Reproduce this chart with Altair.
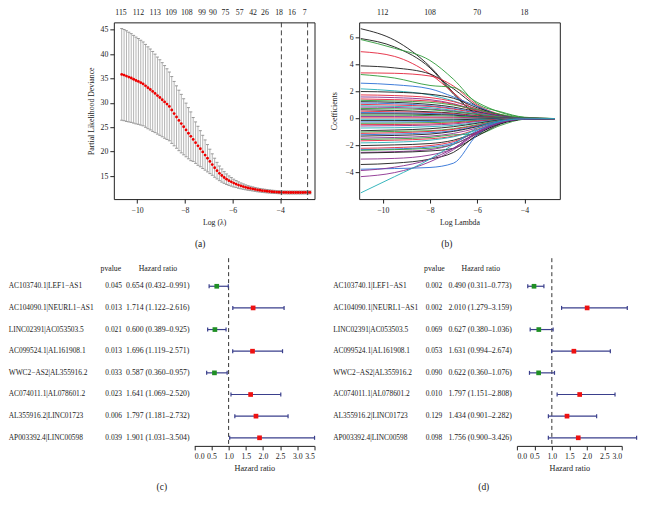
import altair as alt
import pandas as pd

FONT = "Liberation Serif"
FS = 7.8
FS_GENE = 7.4
FS_P = 7.4
INK = "#222222"

# ---------------- panel (a): cross-validation curve ----------------
A_LOGLAMBDA = [-10.65, -10.55, -10.45, -10.35, -10.25, -10.15, -10.05, -9.95, -9.85, -9.75,
               -9.65, -9.55, -9.45, -9.35, -9.25, -9.15, -9.05, -8.95, -8.85, -8.75,
               -8.65, -8.55, -8.45, -8.35, -8.25, -8.15, -8.05, -7.95, -7.85, -7.75,
               -7.65, -7.55, -7.45, -7.35, -7.25, -7.15, -7.05, -6.95, -6.85, -6.75,
               -6.65, -6.55, -6.45, -6.35, -6.25, -6.15, -6.05, -5.95, -5.85, -5.75,
               -5.65, -5.55, -5.45, -5.35, -5.25, -5.15, -5.05, -4.95, -4.85, -4.75,
               -4.65, -4.55, -4.45, -4.35, -4.25, -4.15, -4.05, -3.95, -3.85, -3.75,
               -3.65, -3.55, -3.45, -3.35, -3.25, -3.15, -3.05, -2.95, -2.85, -2.75]
A_CVM = [35.85, 35.7, 35.5, 35.3, 35.1, 34.85, 34.6, 34.4, 34.15, 33.9,
         33.5, 33.1, 32.75, 32.35, 31.95, 31.5, 31.1, 30.65, 30.2, 29.75,
         29.28, 28.55, 27.8, 27.1, 26.4, 25.75, 25.1, 24.45, 23.78, 23.15,
         22.5, 21.85, 21.2, 20.6, 19.95, 19.3, 18.65, 18.0, 17.35, 16.7,
         16.1, 15.55, 15.1, 14.7, 14.35, 14.05, 13.8, 13.55, 13.35, 13.15,
         12.98, 12.83, 12.68, 12.55, 12.45, 12.35, 12.25, 12.15, 12.08, 12.0,
         11.94, 11.88, 11.83, 11.78, 11.74, 11.7, 11.67, 11.65, 11.64, 11.63,
         11.62, 11.62, 11.62, 11.62, 11.62, 11.62, 11.62, 11.63, 11.63, 11.64]
A_CVSD = [9.4, 9.35, 9.3, 9.2, 9.1, 9.0, 8.9, 8.8, 8.7, 8.6,
          8.5, 8.4, 8.3, 8.2, 8.05, 7.9, 7.75, 7.6, 7.45, 7.25,
          7.05, 6.85, 6.6, 6.4, 6.2, 6.0, 5.75, 5.5, 5.25, 5.0,
          4.5, 4.25, 4.0, 3.7, 3.4, 3.1, 2.8, 2.5, 2.2, 1.95,
          1.7, 1.5, 1.35, 1.2, 1.08, 0.97, 0.88, 0.8, 0.72, 0.66,
          0.6, 0.55, 0.5, 0.47, 0.44, 0.42, 0.4, 0.38, 0.37, 0.36,
          0.35, 0.34, 0.33, 0.32, 0.31, 0.3, 0.3, 0.3, 0.3, 0.3,
          0.3, 0.3, 0.3, 0.3, 0.3, 0.3, 0.3, 0.3, 0.3, 0.3]
A_TOP_POS = [-10.68, -9.95, -9.24, -8.58, -7.92, -7.28, -6.82, -6.30, -5.70, -5.14, -4.64, -4.05, -3.51, -2.97]
A_TOP_LAB = ["115", "112", "113", "109", "108", "99", "90", "75", "57", "42", "26", "18", "16", "7"]
A_VLINES = [-3.95, -2.85]

# ---------------- panel (b): coefficient paths ----------------
B_LAMBDA = [-10.93, -9.5, -8.0, -7.0, -6.0, -5.0, -4.0, -2.71]
B_PATHS = [
    ("black", [6.65, 5.8, 3.85, 1.9, 0.3, 0.0, 0.0, 0.0]),
    ("black", [5.92, 5.3, 3.75, 1.8, 0.35, 0.0, 0.0, 0.0]),
    ("green", [5.85, 5.2, 4.3, 2.9, 1.1, 0.5, 0.1, 0.0]),
    ("red", [4.95, 4.6, 3.3, 1.9, 0.5, 0.05, 0.0, 0.0]),
    ("black", [3.9, 3.75, 3.3, 2.2, 0.9, 0.25, 0.02, 0.0]),
    ("red", [3.38, 3.35, 3.15, 2.4, 1.0, 0.3, 0.03, 0.0]),
    ("green", [3.26, 3.0, 2.45, 2.3, 1.2, 0.45, 0.08, 0.0]),
    ("blue", [2.62, 2.5, 2.2, 1.6, 0.9, 0.25, 0.02, 0.0]),
    ("cyan", [2.2, 2.05, 1.75, 1.3, 0.7, 0.2, 0.02, 0.0]),
    ("black", [2.0, 1.95, 1.8, 1.5, 0.8, 0.25, 0.03, 0.0]),
    ("red", [1.75, 1.7, 1.55, 1.25, 0.7, 0.2, 0.02, 0.0]),
    ("purple", [1.6, 1.55, 1.4, 1.1, 0.6, 0.2, 0.02, 0.0]),
    ("red", [1.45, 1.4, 1.3, 1.05, 0.55, 0.15, 0.01, 0.0]),
    ("green", [1.35, 1.3, 1.2, 1.0, 0.65, 0.3, 0.05, 0.0]),
    ("black", [1.25, 1.2, 1.05, 0.85, 0.5, 0.15, 0.01, 0.0]),
    ("blue", [1.15, 1.1, 0.95, 0.75, 0.45, 0.15, 0.01, 0.0]),
    ("red", [1.05, 1.0, 0.9, 0.7, 0.4, 0.12, 0.0, 0.0]),
    ("cyan", [0.95, 0.9, 0.8, 0.6, 0.35, 0.1, 0.0, 0.0]),
    ("purple", [0.85, 0.82, 0.7, 0.55, 0.3, 0.08, 0.0, 0.0]),
    ("green", [0.75, 0.72, 0.65, 0.5, 0.3, 0.1, 0.0, 0.0]),
    ("black", [0.65, 0.6, 0.5, 0.4, 0.2, 0.05, 0.0, 0.0]),
    ("red", [0.55, 0.5, 0.45, 0.35, 0.2, 0.05, 0.0, 0.0]),
    ("blue", [0.45, 0.42, 0.38, 0.3, 0.15, 0.04, 0.0, 0.0]),
    ("black", [0.35, 0.35, 0.3, 0.25, 0.12, 0.03, 0.0, 0.0]),
    ("green", [0.25, 0.25, 0.22, 0.18, 0.1, 0.03, 0.0, 0.0]),
    ("purple", [0.15, 0.15, 0.12, 0.1, 0.05, 0.02, 0.0, 0.0]),
    ("red", [0.05, 0.05, 0.05, 0.04, 0.02, 0.0, 0.0, 0.0]),
    ("cyan", [-0.05, -0.05, -0.05, -0.04, -0.02, 0.0, 0.0, 0.0]),
    ("black", [-0.15, -0.15, -0.13, -0.1, -0.05, -0.01, 0.0, 0.0]),
    ("blue", [-0.25, -0.25, -0.22, -0.18, -0.1, -0.03, 0.0, 0.0]),
    ("green", [-0.35, -0.34, -0.3, -0.25, -0.13, -0.04, 0.0, 0.0]),
    ("red", [-0.45, -0.44, -0.4, -0.32, -0.18, -0.05, 0.0, 0.0]),
    ("purple", [-0.55, -0.53, -0.48, -0.4, -0.22, -0.06, 0.0, 0.0]),
    ("cyan", [-0.7, -0.68, -0.6, -0.5, -0.3, -0.08, 0.0, 0.0]),
    ("black", [-0.9, -0.85, -0.75, -0.6, -0.35, -0.1, -0.01, 0.0]),
    ("green", [-1.0, -0.95, -0.9, -0.75, -0.45, -0.12, -0.01, 0.0]),
    ("red", [-1.1, -1.05, -0.95, -0.8, -0.5, -0.15, -0.01, 0.0]),
    ("blue", [-1.2, -1.15, -1.05, -0.9, -0.55, -0.15, -0.01, 0.0]),
    ("black", [-1.3, -1.25, -1.15, -0.95, -0.6, -0.2, -0.02, 0.0]),
    ("purple", [-1.45, -1.4, -1.3, -1.1, -0.7, -0.2, -0.02, 0.0]),
    ("green", [-1.55, -1.5, -1.4, -1.2, -1.15, -0.5, -0.05, 0.0]),
    ("red", [-1.65, -1.6, -1.5, -1.3, -0.8, -0.25, -0.02, 0.0]),
    ("cyan", [-1.8, -1.75, -1.6, -1.35, -0.85, -0.25, -0.02, 0.0]),
    ("black", [-2.0, -1.95, -1.85, -1.6, -1.0, -0.3, -0.03, 0.0]),
    ("red", [-2.2, -2.15, -2.0, -1.7, -1.0, -0.3, -0.03, 0.0]),
    ("blue", [-2.3, -2.25, -2.1, -1.8, -0.9, -0.2, -0.02, 0.0]),
    ("green", [-2.35, -2.3, -2.2, -1.9, -1.1, -0.35, -0.04, 0.0]),
    ("purple", [-2.5, -2.45, -2.3, -1.9, -1.1, -0.3, -0.03, 0.0]),
    ("black", [-2.55, -2.5, -2.4, -2.2, -1.3, -0.4, -0.05, 0.0]),
    ("purple", [-3.0, -2.95, -2.7, -2.2, -1.0, -0.3, -0.03, 0.0]),
    ("black", [-3.4, -3.3, -3.0, -2.5, -1.2, -0.35, -0.04, 0.0]),
    ("blue", [-3.75, -3.7, -3.62, -3.3, -1.2, -0.3, -0.03, 0.0]),
    ("purple", [-3.85, -3.6, -3.0, -2.2, -1.0, -0.3, -0.03, 0.0]),
    ("purple", [-4.3, -4.0, -3.2, -2.3, -1.1, -0.3, -0.03, 0.0]),
    ("cyan", [-5.5, -4.3, -3.0, -1.9, -0.7, -0.2, -0.02, 0.0]),
]
B_COLORS = {"black": "#1a1a1a", "red": "#e3243b", "green": "#2f9b3a",
            "blue": "#2b6fd6", "cyan": "#23aeb5", "purple": "#8b2f8f"}
B_TOP_POS = [-10, -8, -6, -4]
B_TOP_LAB = ["112", "108", "70", "18"]

# ---------------- panels (c), (d): forest plots ----------------
GENES = ["AC103740.1|LEF1\u2212AS1", "AC104090.1|NEURL1\u2212AS1", "LINC02391|AC053503.5",
         "AC099524.1|AL161908.1", "WWC2\u2212AS2|AL355916.2", "AC074011.1|AL078601.2",
         "AL355916.2|LINC01723", "AP003392.4|LINC00598"]
C_P = [0.045, 0.013, 0.021, 0.013, 0.033, 0.023, 0.006, 0.039]
C_HR = [0.654, 1.714, 0.600, 1.696, 0.587, 1.641, 1.797, 1.901]
C_LO = [0.432, 1.122, 0.389, 1.119, 0.360, 1.069, 1.181, 1.031]
C_HI = [0.991, 2.616, 0.925, 2.571, 0.957, 2.520, 2.732, 3.504]
D_P = [0.002, 0.002, 0.069, 0.053, 0.090, 0.010, 0.129, 0.098]
D_HR = [0.490, 2.010, 0.627, 1.631, 0.622, 1.797, 1.434, 1.756]
D_LO = [0.311, 1.279, 0.380, 0.994, 0.360, 1.151, 0.901, 0.900]
D_HI = [0.773, 3.159, 1.036, 2.674, 1.076, 2.808, 2.282, 3.426]
HR_REF = 1.0
C_TICKS = [0.0, 0.5, 1.0, 1.5, 2.0, 2.5, 3.0, 3.5]
D_TICKS = [0.0, 0.5, 1.0, 1.5, 2.0, 2.5, 3.0]

W = 201
H_TOP = 177
H_BOT = 188
NAVY = "#3a3f8c"
GREEN = "#1f8f24"
RED = "#ee1111"

ax_ab = dict(grid=False, domain=False, tickColor=INK, tickSize=4, labelFontSize=FS,
             titleFontSize=FS, labelColor=INK, titleColor=INK, labelFont=FONT, titleFont=FONT,
             titleFontWeight="normal")

# ---- (a)
a_df = pd.DataFrame({"x": A_LOGLAMBDA, "m": A_CVM, "sd": A_CVSD})
a_df["up"] = a_df["m"] + a_df["sd"]
a_df["lo"] = a_df["m"] - a_df["sd"]
xs_a = alt.Scale(domain=[-10.98, -2.56], nice=False, zero=False)
ys_a = alt.Scale(domain=[10.27, 46.52], nice=False, zero=False)
xax_a = alt.Axis(values=[-10, -8, -6, -4], title="Log (\u03bb)", labelPadding=3, titlePadding=5, **ax_ab)
yax_a = alt.Axis(values=[15, 20, 25, 30, 35, 40, 45], title="Partial Likelihood Deviance",
                 labelPadding=2, titlePadding=5, **ax_ab)


def xa(f):
    return alt.X(f, scale=xs_a, axis=xax_a)


def ya(f):
    return alt.Y(f, scale=ys_a, axis=yax_a)


base_a = alt.Chart(a_df)
a_whisk = base_a.mark_rule(color="#b4b4b4", strokeWidth=1).encode(x=xa("x:Q"), y=ya("lo:Q"), y2="up:Q")
a_capu = base_a.mark_point(shape="M-1,0L1,0", size=9, filled=False, color="#999999",
                           strokeWidth=1, opacity=1).encode(x=xa("x:Q"), y=ya("up:Q"))
a_capl = base_a.mark_point(shape="M-1,0L1,0", size=9, filled=False, color="#999999",
                           strokeWidth=1, opacity=1).encode(x=xa("x:Q"), y=ya("lo:Q"))
a_pts = base_a.mark_circle(color="#ee0000", size=8, opacity=1).encode(x=xa("x:Q"), y=ya("m:Q"))
a_vl = alt.Chart(pd.DataFrame({"x": A_VLINES})).mark_rule(
    color="#444444", strokeDash=[5, 3], strokeWidth=1).encode(x=xa("x:Q"))
a_top = alt.Chart(pd.DataFrame({"x": A_TOP_POS, "t": A_TOP_LAB})).mark_text(
    fontSize=FS, font=FONT, baseline="middle", color=INK).encode(x=xa("x:Q"), y=alt.value(-8.9), text="t:N")
a_lab = alt.Chart(pd.DataFrame({"t": ["(a)"]})).mark_text(
    fontSize=9.5, font=FONT, baseline="middle", color=INK).encode(
    x=alt.value(86.5), y=alt.value(221.8), text="t:N")
A = alt.layer(a_whisk, a_capu, a_capl, a_pts, a_vl, a_top, a_lab).properties(
    width=W, height=H_TOP, view=alt.ViewBackground(stroke=INK, strokeWidth=1))

# ---- (b)
b_rows = []
for i, (col, vals) in enumerate(B_PATHS):
    for lam, v in zip(B_LAMBDA, vals):
        b_rows.append({"path": i, "col": col, "x": lam, "y": v})
b_df = pd.DataFrame(b_rows)
xs_b = alt.Scale(domain=[-11.0, -2.5], nice=False, zero=False)
ys_b = alt.Scale(domain=[-5.96, 7.12], nice=False, zero=False)
xax_b = alt.Axis(values=[-10, -8, -6, -4], title="Log Lambda", labelPadding=3, titlePadding=5, **ax_ab)
yax_b = alt.Axis(values=[-6, -4, -2, 0, 2, 4, 6], title="Coefficients", labelPadding=2,
                 titlePadding=6, **ax_ab)
b_lines = alt.Chart(b_df).mark_line(interpolate="monotone", strokeWidth=0.9).encode(
    x=alt.X("x:Q", scale=xs_b, axis=xax_b),
    y=alt.Y("y:Q", scale=ys_b, axis=yax_b),
    color=alt.Color("col:N", scale=alt.Scale(domain=list(B_COLORS.keys()),
                                             range=list(B_COLORS.values())), legend=None),
    detail="path:N",
)
b_top = alt.Chart(pd.DataFrame({"x": B_TOP_POS, "t": B_TOP_LAB})).mark_text(
    fontSize=FS, font=FONT, baseline="middle", color=INK).encode(
    x=alt.X("x:Q", scale=xs_b, axis=xax_b), y=alt.value(-8.9), text="t:N")
b_lab = alt.Chart(pd.DataFrame({"t": ["(b)"]})).mark_text(
    fontSize=9.5, font=FONT, baseline="middle", color=INK).encode(
    x=alt.value(87.8), y=alt.value(221.8), text="t:N")
B = alt.layer(b_lines, b_top, b_lab).properties(
    width=W, height=H_TOP, view=alt.ViewBackground(stroke=INK, strokeWidth=1))


# ---- (c), (d)
def forest(p, hr, lo, hi, xdom, xrange, ticks, tx, label, lab_x):
    df = pd.DataFrame({
        "row": list(range(1, len(GENES) + 1)),
        "gene": GENES,
        "p": [f"{v:.3f}" for v in p],
        "hrtxt": [f"{h:.3f} ({l:.3f}\u2013{u:.3f})" for h, l, u in zip(hr, lo, hi)],
        "hr": hr, "lo": lo, "hi": hi,
        "dir": ["low" if h < HR_REF else "high" for h in hr],
    })
    xs = alt.Scale(domain=xdom, range=xrange, nice=False, zero=False)
    ys = alt.Scale(domain=[-0.297, 8.374], reverse=True, nice=False, zero=False)
    xax = alt.Axis(values=ticks, format=".1f", title="Hazard ratio", grid=False, domain=True,
                   domainColor=INK, tickColor=INK, tickSize=4, labelPadding=2.5, titlePadding=4,
                   labelFontSize=FS, titleFontSize=8.2, labelColor=INK, titleColor=INK,
                   labelFont=FONT, titleFont=FONT, titleFontWeight="normal")

    def X(f):
        return alt.X(f, scale=xs, axis=xax)

    Y = alt.Y("row:Q", scale=ys, axis=None)
    base = alt.Chart(df)
    ref = alt.Chart(pd.DataFrame({"v": [HR_REF]})).mark_rule(
        color="#333333", strokeDash=[4, 3], strokeWidth=1).encode(x=X("v:Q"))
    bar = base.mark_rule(color=NAVY, strokeWidth=1.2).encode(x=X("lo:Q"), x2="hi:Q", y=Y)
    cap1 = base.mark_point(shape="M0,-1L0,1", size=16, filled=False, color=NAVY,
                           strokeWidth=1.2, opacity=1).encode(x=X("lo:Q"), y=Y)
    cap2 = base.mark_point(shape="M0,-1L0,1", size=16, filled=False, color=NAVY,
                           strokeWidth=1.2, opacity=1).encode(x=X("hi:Q"), y=Y)
    sq_lo = base.transform_filter(alt.datum.dir == "low").mark_square(
        size=22, opacity=1, color=GREEN).encode(x=X("hr:Q"), y=Y)
    sq_hi = base.transform_filter(alt.datum.dir == "high").mark_square(
        size=22, opacity=1, color=RED).encode(x=X("hr:Q"), y=Y)
    t_gene = base.mark_text(align="left", baseline="middle", fontSize=FS_GENE, font=FONT, color=INK).encode(
        x=alt.value(tx[0]), y=Y, text="gene:N")
    t_p = base.mark_text(align="left", baseline="middle", fontSize=FS_P, font=FONT, color=INK).encode(
        x=alt.value(tx[1]), y=Y, text="p:N")
    t_hr = base.mark_text(align="left", baseline="middle", fontSize=FS, font=FONT, color=INK).encode(
        x=alt.value(tx[2]), y=Y, text="hrtxt:N")
    hdr = alt.Chart(pd.DataFrame({"t": ["pvalue", "Hazard ratio"]}))
    h1 = hdr.transform_filter(alt.datum.t == "pvalue").mark_text(
        align="center", baseline="middle", fontSize=FS, font=FONT, color=INK).encode(
        x=alt.value(tx[3]), y=alt.value(11.2), text="t:N")
    h2 = hdr.transform_filter(alt.datum.t == "Hazard ratio").mark_text(
        align="center", baseline="middle", fontSize=FS, font=FONT, color=INK).encode(
        x=alt.value(tx[4]), y=alt.value(11.2), text="t:N")
    lab = alt.Chart(pd.DataFrame({"t": [label]})).mark_text(
        fontSize=9.5, font=FONT, baseline="middle", color=INK).encode(
        x=alt.value(lab_x), y=alt.value(229.4), text="t:N")
    return alt.layer(ref, bar, cap1, cap2, sq_lo, sq_hi, t_gene, t_p, t_hr, h1, h2, lab).properties(
        width=W, height=H_BOT)


C = forest(C_P, C_HR, C_LO, C_HI, [0.0, 3.5], [80.6, 200.9], C_TICKS,
           [-105.3, -8.5, 12.3, -3.0, 44.2], "(c)", 48.1)
D = forest(D_P, D_HR, D_LO, D_HI, [0.0, 3.0], [158.0, 263.0], D_TICKS,
           [-26.0, 66.6, 89.4, 75.4, 121.9], "(d)", 124.8)

chart = alt.concat(A, B, C, D, columns=2, spacing={"row": 59.2, "column": 44.7},
                   bounds="flush", padding=0, background="white").resolve_scale(
    color="independent").configure_view(stroke="transparent").configure_axis(
    labelFont=FONT, titleFont=FONT, titleFontWeight="normal").configure_text(font=FONT)

chart.save("out.html", embed_options={"renderer": "svg", "actions": False})
